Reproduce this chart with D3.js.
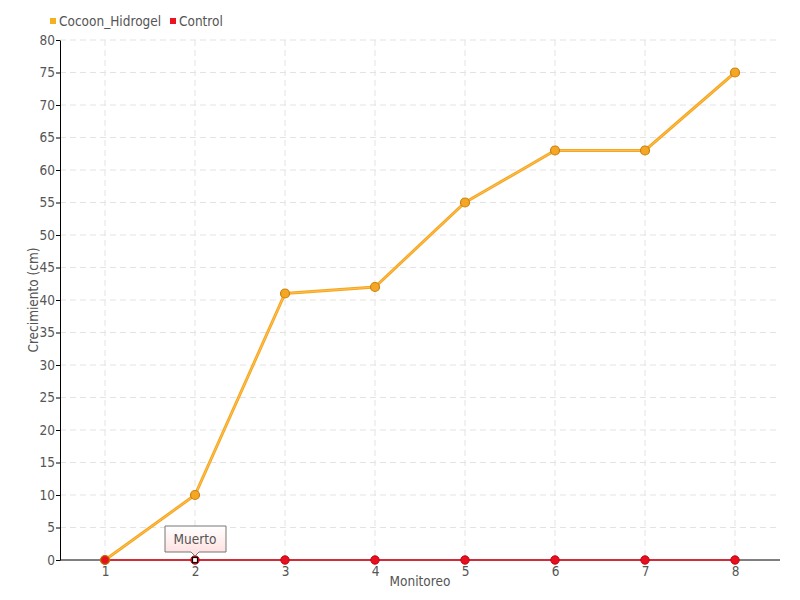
<!DOCTYPE html>
<html><head><meta charset="utf-8">
<script src="https://cdn.jsdelivr.net/npm/d3@7"></script>
<style>
body{margin:0;background:#fff;}
text{font-family:"DejaVu Sans Condensed","DejaVu Sans",sans-serif;font-stretch:condensed;fill:#555;}
</style></head>
<body><svg id="c" width="800" height="600"></svg>
<script>
const categories = ["1","2","3","4","5","6","7","8"];
const cocoon = [0,10,41,42,55,63,63,75];
const control = [0,0,0,0,0,0,0,0];
const yTicks = [0,5,10,15,20,25,30,35,40,45,50,55,60,65,70,75,80];
const seriesNames = ["Cocoon_Hidrogel","Control"];
const annotation = {index:1, label:"Muerto"};

const svg = d3.select("#c");
const L=60,R=780,T=40,B=560;
const FS=13.5;
const x = d3.scalePoint().domain(categories).range([L,R]).padding(0.5);
const y = d3.scaleLinear().domain([0,80]).range([B,T]);

// grid
const g = svg.append("g");
g.selectAll(".hg").data(yTicks.filter(d=>d>0)).enter().append("line")
 .attr("x1",L).attr("x2",R).attr("y1",d=>y(d)).attr("y2",d=>y(d))
 .attr("stroke","#e3e3e3").attr("stroke-dasharray","6,4");
g.selectAll(".vg").data(categories).enter().append("line")
 .attr("x1",d=>x(d)).attr("x2",d=>x(d)).attr("y1",T).attr("y2",B)
 .attr("stroke","#e3e3e3").attr("stroke-dasharray","6,4");

// axes
const ya = svg.append("g").attr("transform",`translate(${L},0)`)
 .call(d3.axisLeft(y).tickValues(yTicks).tickSize(4).tickSizeOuter(0));
ya.select(".domain").attr("stroke","#000");
ya.selectAll(".tick line").attr("stroke","#000");
ya.selectAll("text").attr("font-size",FS).attr("x",-5).attr("fill","#555").attr("font-family",null);
const xa = svg.append("g").attr("transform",`translate(0,${B})`)
 .call(d3.axisBottom(x).tickSize(0).tickSizeOuter(0));
xa.select(".domain").attr("stroke","#000").attr("d",`M${L},0H${R}`);
xa.selectAll("text").attr("font-size",FS).attr("dy","0.95em").attr("fill","#555");
ya.attr("font-family",null); xa.attr("font-family",null);

svg.append("text").attr("x",420).attr("y",586).attr("text-anchor","middle").attr("font-size",FS).text("Monitoreo");
svg.append("text").attr("transform","translate(38,300) rotate(-90)").attr("text-anchor","middle").attr("font-size",FS).text("Crecimiento (cm)");

// lines
const line = d3.line().x((d,i)=>x(categories[i])).y(d=>y(d));
svg.append("path").datum(cocoon).attr("d",line).attr("fill","none").attr("stroke","#f5a623").attr("stroke-width",3);
svg.append("path").datum(cocoon).attr("d",line).attr("fill","none").attr("stroke","#ffc04d").attr("stroke-width",1);
svg.append("path").datum(control).attr("d",line).attr("fill","none").attr("stroke","#ee1122").attr("stroke-width",1.5);

svg.selectAll(".pc").data(cocoon).enter().append("circle")
 .attr("cx",(d,i)=>x(categories[i])).attr("cy",d=>y(d)).attr("r",4.5)
 .attr("fill","#f5a623").attr("stroke","#c98310").attr("stroke-width",1.2);
svg.selectAll(".pr").data(control).enter().append("circle")
 .attr("cx",(d,i)=>x(categories[i])).attr("cy",d=>y(d)).attr("r",4.2)
 .attr("fill","#e8101f").attr("stroke",(d,i)=>i===0?"#b36a00":"#c00010").attr("stroke-width",1);

// annotation marker
const ax = x(categories[annotation.index]), ay = y(control[annotation.index]);
svg.append("rect").attr("x",ax-2.5).attr("y",ay-2.5).attr("width",5).attr("height",5).attr("fill","#fff").attr("stroke","#000").attr("stroke-width",1.2);

// tooltip
const defs = svg.append("defs");
const gr = defs.append("linearGradient").attr("id","tg").attr("x1",0).attr("y1",0).attr("x2",0).attr("y2",1);
gr.append("stop").attr("offset","0%").attr("stop-color","#fff");
gr.append("stop").attr("offset","100%").attr("stop-color","#fdd");
const bx0=ax-30, bx1=ax+31, by0=526, by1=552;
svg.append("path").attr("d",`M${bx0},${by0}H${bx1}V${by1}H${ax+4}L${ax},${by1+4}L${ax-4},${by1}H${bx0}Z`)
 .attr("fill","url(#tg)").attr("stroke","#777").attr("stroke-width",1);
svg.append("text").attr("x",ax).attr("y",544).attr("text-anchor","middle").attr("font-size",FS).text(annotation.label);

// legend
const colors=["#f5b020","#ee1122"];
const lx=[50,170];
seriesNames.forEach((n,i)=>{
  svg.append("rect").attr("x",lx[i]).attr("y",18).attr("width",6).attr("height",6).attr("fill",colors[i]);
  svg.append("text").attr("x",lx[i]+9).attr("y",26).attr("font-size",FS).text(n);
});
</script></body></html>
